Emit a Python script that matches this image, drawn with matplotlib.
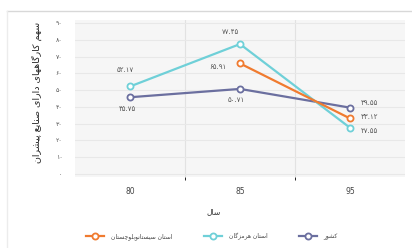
import matplotlib
matplotlib.use("Agg")
import matplotlib.pyplot as plt
from matplotlib.lines import Line2D

# --- data ---
years = ["80", "85", "95"]
keshvar = [45.75, 50.71, 39.55]
hormozgan = [52.17, 77.45, 27.55]
sistan = [None, 65.91, 33.12]
y_ticks = [0, 10, 20, 30, 40, 50, 60, 70, 80, 90]

# --- tiny persian shaper (matplotlib has no arabic shaping) ---
FORMS = {
    "ا": ("\uFE8D", "\uFE8E", None, None),
    "ب": ("\uFE8F", "\uFE90", "\uFE91", "\uFE92"),
    "ت": ("\uFE95", "\uFE96", "\uFE97", "\uFE98"),
    "د": ("\uFEA9", "\uFEAA", None, None),
    "ر": ("\uFEAD", "\uFEAE", None, None),
    "ز": ("\uFEAF", "\uFEB0", None, None),
    "س": ("\uFEB1", "\uFEB2", "\uFEB3", "\uFEB4"),
    "ش": ("\uFEB5", "\uFEB6", "\uFEB7", "\uFEB8"),
    "ص": ("\uFEB9", "\uFEBA", "\uFEBB", "\uFEBC"),
    "ع": ("\uFEC9", "\uFECA", "\uFECB", "\uFECC"),
    "ل": ("\uFEDD", "\uFEDE", "\uFEDF", "\uFEE0"),
    "م": ("\uFEE1", "\uFEE2", "\uFEE3", "\uFEE4"),
    "ن": ("\uFEE5", "\uFEE6", "\uFEE7", "\uFEE8"),
    "ه": ("\uFEE9", "\uFEEA", "\uFEEB", "\uFEEC"),
    "و": ("\uFEED", "\uFEEE", None, None),
    "ی": ("\uFBFC", "\uFBFD", "\uFBFE", "\uFBFF"),
    "ک": ("\uFB8E", "\uFB8F", "\uFB90", "\uFB91"),
    "گ": ("\uFB92", "\uFB93", "\uFB94", "\uFB95"),
    "پ": ("\uFB56", "\uFB57", "\uFB58", "\uFB59"),
    "چ": ("\uFB7A", "\uFB7B", "\uFB7C", "\uFB7D"),
}


def dual(c):
    return c in FORMS and FORMS[c][2] is not None


def fa(s):
    out = []
    for i, c in enumerate(s):
        if c not in FORMS:
            out.append(c)
            continue
        prev = s[i - 1] if i > 0 else ""
        nxt = s[i + 1] if i + 1 < len(s) else ""
        pj = dual(prev)
        nj = dual(c) and nxt in FORMS
        iso, fin, ini, med = FORMS[c]
        if pj and nj:
            out.append(med)
        elif pj:
            out.append(fin)
        elif nj:
            out.append(ini)
        else:
            out.append(iso)
    return "".join(out)[::-1]


def fa_num(s):
    return s.translate(str.maketrans("0123456789", "۰۱۲۳۴۵۶۷۸۹"))


c_kes = "#6b6f9f"
c_hor = "#6fd0d8"
c_sis = "#f07b30"

fig = plt.figure(figsize=(4.12, 2.48), dpi=100)
ax = fig.add_axes([75 / 412, 71 / 248, 330 / 412, 157 / 248])
ax.set_facecolor("#f6f6f6")

x = list(range(len(years)))
mk = dict(marker="o", markersize=4.4, markerfacecolor="white", markeredgewidth=1.3, linewidth=1.6)
ax.plot(x, keshvar, color=c_kes, zorder=3, **mk)
ax.plot(x, hormozgan, color=c_hor, zorder=4, **mk)
ax.plot(x[1:], sistan[1:], color=c_sis, zorder=5, **mk)

lab = dict(fontsize=5, color="#555555", family="DejaVu Sans", ha="center", va="center")
ax.text(-0.04, 52.17 + 10, fa_num("52.17"), **lab)
ax.text(-0.02, 45.75 - 6.8, fa_num("45.75"), **lab)
ax.text(0.91, 77.45 + 7, fa_num("77.45"), **lab)
ax.text(0.8, 65.91 - 2, fa_num("65.91"), **lab)
ax.text(0.97, 50.71 - 6.5, fa_num("50.71"), **lab)
lab.update(ha="left")
ax.text(2.1, 39.55 + 2.6, fa_num("39.55"), **lab)
ax.text(2.1, 33.12 + 0.8, fa_num("33.12"), **lab)
ax.text(2.1, 27.55 - 1.9, fa_num("27.55"), **lab)

ax.set_xlim(-0.5, 2.5)
ax.set_ylim(-1.8, 91.8)
ax.set_xticks(x)
ax.set_xticklabels(years, fontsize=5.5, color="#444444")
ax.set_yticks(y_ticks)
ax.set_yticklabels([fa_num(str(v)) for v in y_ticks], fontsize=4.5, color="#555555")
ax.tick_params(length=0, pad=9)
ax.tick_params(axis="x", pad=7)
ax.set_xticks([0.5, 1.5], minor=True)
ax.grid(True, axis="y", color="#e8e8e8", linewidth=0.8)
ax.grid(True, axis="x", which="minor", color="#e2e2e2", linewidth=0.8)
for s in ax.spines.values():
    s.set_visible(False)

fig.text(214 / 412, 1 - 212 / 248, fa("سال"), fontsize=5.5, ha="center", va="center", color="#333333")
fig.text(37 / 412, 1 - 92 / 248, fa("سهم کارگاههای دارای صنایع پیشران"), fontsize=6.8,
         rotation=90, ha="center", va="center", color="#222222")

handles = [
    Line2D([], [], color=c_sis, **mk),
    Line2D([], [], color=c_hor, **mk),
    Line2D([], [], color=c_kes, **mk),
]
labels = [fa("استان سیستانوبلوچستان"), fa("استان هرمزگان"), fa("کشور")]
fig.legend(handles, labels, loc="center", bbox_to_anchor=(212 / 412, 1 - 236 / 248), ncol=3,
           frameon=False, fontsize=4.3, handlelength=3.0, columnspacing=5.2, handletextpad=1.2,
           labelcolor="#444444")

# outer frame of the figure box
fig.add_artist(Line2D([7 / 412, 1], [1 - 11 / 248, 1 - 11 / 248], transform=fig.transFigure, color="#d8d8d8", lw=1))
fig.add_artist(Line2D([7 / 412, 7 / 412], [0, 1 - 11 / 248], transform=fig.transFigure, color="#ececec", lw=1))

fig.savefig("out.png", dpi=100)
